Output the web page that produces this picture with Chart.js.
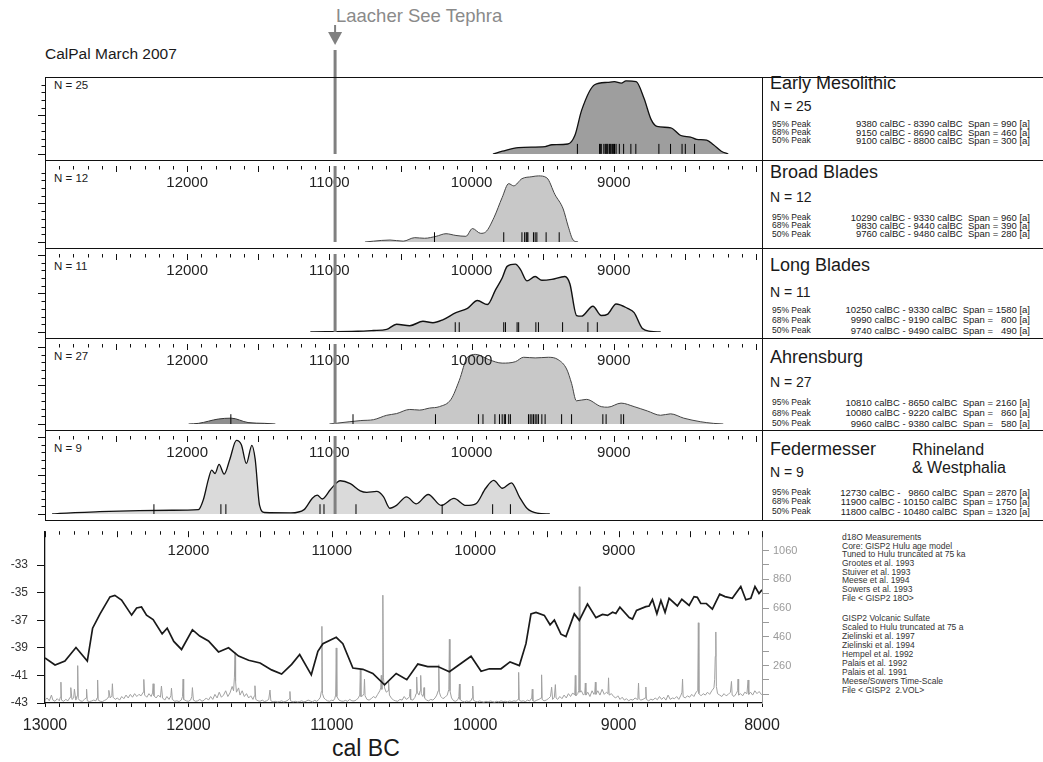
<!DOCTYPE html>
<html lang="de">
<head>
<meta charset="UTF-8" />
<title>CalPal March 2007</title>
<script src="https://cdn.jsdelivr.net/npm/chart.js@4.4.1/dist/chart.umd.min.js"></script>
<style>
  body { margin: 0; background: #fff; font-family: "Liberation Sans", Arial, sans-serif; color: #1a1a1a; }
  #page { position: relative; width: 1043px; height: 762px; overflow: hidden; }
  canvas { position: absolute; }
  .txt { position: absolute; white-space: pre; line-height: 1; }
  .hline { position: absolute; left: 45px; width: 998px; height: 1px; background: #111; z-index: 5; }
  .vline { position: absolute; width: 1px; background: #111; z-index: 5; }
  .row { position: absolute; left: 772px; width: 258px; height: 10px; display: flex;
         justify-content: space-between; align-items: center; }
  .row .lab { font-size: 8.5px; }
  .row .val { font-size: 9.5px; white-space: pre; }
  .notes { position: absolute; left: 842px; font-size: 8.5px; white-space: pre; color: #333; }
</style>
</head>
<body>
<div id="page">
  <div class="txt" style="left:336px; top:7px; font-size:18.5px; color:#8a8a8a;">Laacher See Tephra</div>
  <div class="txt" style="left:45px; top:46px; font-size:15.5px;">CalPal March 2007</div>
  <div class="txt" style="left:332px; top:737px; font-size:23px;">cal BC</div>
  <div class="notes" style="top:533px; line-height:8.65px;">d18O Measurements
Core: GISP2 Hulu age model
Tuned to Hulu truncated at 75 ka
Grootes et al. 1993
Stuiver et al. 1993
Meese et al. 1994
Sowers et al. 1993
File &lt; GISP2 18O&gt;</div>
  <div class="notes" style="top:614px; line-height:9.05px;">GISP2 Volcanic Sulfate
Scaled to Hulu truncated at 75 a
Zielinski et al. 1997
Zielinski et al. 1994
Hempel et al. 1992
Palais et al. 1992
Palais et al. 1991
Meese/Sowers Time-Scale
File &lt; GISP2  2.VOL&gt;</div>
</div>

<script>
// ---- data (years cal BC, relative probability 0..100) ----
const earlyMesolithic = [[9850,0],[9783,3.6],[9671,8.4],[9483,9.6],[9435,12],[9323,13],[9274,24],[9226,57],
  [9135,90],[9045,93],[8996,94],[8947,92],[8914,95],[8843,94],[8787,72],[8738,45],[8697,36],[8599,34],
  [8529,24],[8460,22],[8417,19],[8347,18],[8299,12],[8244,3.6],[8195,0]];
const broadBlades = [[10750,0],[10690,1.1],[10574,2.6],[10481,1.1],[10400,5.7],[10331,4.9],[10249,7.5],
  [10180,10.9],[10110,8.6],[10040,7.5],[9994,17.7],[9936,11.4],[9901,13.2],[9843,32],[9785,58.6],[9739,76.8],
  [9704,73.9],[9646,83.3],[9576,85.9],[9530,87],[9471,84.4],[9414,62.5],[9356,43.5],[9321,20.8],[9286,2.6],[9251,0]];
const longBlades = [[11134,0],[10800,1],[10690,1.9],[10597,3.3],[10528,10],[10435,8.1],[10342,13.7],[10272,11.9],
  [10203,15.6],[10110,24.8],[10029,30.3],[9959,40.3],[9889,35.2],[9831,54.4],[9785,69.2],[9750,84.1],[9692,87],
  [9657,80.3],[9611,65.6],[9553,71.1],[9506,66.3],[9437,67.4],[9344,71.1],[9309,61.9],[9262,21.1],[9228,20.3],
  [9147,33],[9088,21.1],[9042,23],[8984,35.9],[8903,30.3],[8857,24.8],[8799,4.4],[8740,0.8],[8670,0]];
const ahrensburgEarly = [[11990,0],[11921,0.8],[11781,6.2],[11691,7.3],[11572,1.8],[11454,0.8],[11380,0]];
const ahrensburg = [[11000,0],[10944,1.1],[10779,4.3],[10690,5.4],[10597,10.9],[10528,13],[10435,18.2],
  [10366,17.4],[10296,19.9],[10226,21.7],[10145,30.8],[10087,54.3],[10029,83.4],[9971,87],[9878,80.4],
  [9785,76.1],[9692,77.9],[9634,83.4],[9553,82.6],[9460,83.4],[9391,80.4],[9332,68.8],[9297,50.8],[9263,29],
  [9193,30.8],[9088,21.7],[9042,21],[8949,26.1],[8857,21.7],[8764,16.3],[8671,10.9],[8601,12.7],[8508,7.3],
  [8392,2.9],[8300,0.8],[8230,0]];
const federmesser = [[12950,0],[12896,0.8],[12617,3],[12338,4.4],[12107,4.8],[11921,5.6],[11886,18.6],
  [11851,44.4],[11828,56.3],[11804,51.9],[11776,63.7],[11740,51.1],[11700,70.3],[11654,94.4],[11619,88.9],
  [11584,64.8],[11545,88.1],[11522,70.3],[11491,11.1],[11456,1.9],[11271,1.4],[11178,5.6],[11120,20.3],
  [11085,24.1],[11050,19.2],[10992,31.4],[10923,42.6],[10853,38.9],[10783,29.7],[10737,27.8],[10667,28.9],
  [10620,22.2],[10575,7.4],[10528,11.1],[10458,22],[10389,13],[10305,25],[10214,11],[10124,20],[10040,11],
  [9971,13],[9901,33],[9845,43],[9783,33],[9720,40],[9664,22],[9609,7],[9539,1],[9450,0]];

// single 14C dates (rug marks)
const earlyMesolithicDates = [9256,9100,9095,9088,9070,9060,9054,9048,9042,9031,9025,9019,9010,9001,8995,
  8984,8961,8931,8880,8845,8683,8601,8520,8497,8432];
const broadBladesDates = [10261,9774,9646,9627,9616,9610,9604,9565,9553,9541,9476,9384];
const longBladesDates = [10115,10087,9774,9762,9680,9669,9548,9530,9360,9182,9116];
const ahrensburgDates = [11693,10834,10254,9952,9920,9836,9804,9785,9770,9762,9739,9727,9600,9588,9576,
  9565,9553,9541,9530,9506,9483,9367,9297,9077,9054,8949,8931];
const federmesserDates = [12234,11763,11728,11066,11038,10813,10207,9852,9727];

// GISP2 d18O (permil)
const d18O = [[13000,-39.73],[12930,-40.25],[12861,-39.96],[12784,-38.98],[12705,-39.96],[12668,-37.58],
  [12617,-36.56],[12547,-35.31],[12513,-35.2],[12466,-35.54],[12396,-36.63],[12361,-36.11],[12327,-36.04],
  [12292,-36.63],[12246,-36.95],[12183,-37.99],[12148,-37.58],[12102,-38.54],[12048,-39.12],[11972,-37.69],
  [11921,-38.15],[11860,-38.5],[11790,-39.3],[11720,-39.0],[11650,-39.6],[11580,-39.9],[11500,-40.1],
  [11420,-40.6],[11350,-40.9],[11280,-40.2],[11224,-39.49],[11143,-40.96],[11097,-39.26],[11062,-38.7],
  [10969,-38.24],[10923,-38.7],[10853,-40.47],[10783,-40.56],[10714,-40.86],[10632,-41.69],[10551,-40.86],
  [10477,-41.31],[10400,-40.18],[10331,-40.36],[10261,-40.36],[10180,-40.74],[10029,-39.61],[9959,-40.7],
  [9901,-40.52],[9820,-40.52],[9757,-40.02],[9692,-40.29],[9646,-38.7],[9611,-36.54],[9576,-36.43],
  [9518,-36.65],[9478,-37.33],[9448,-36.99],[9402,-38.01],[9367,-38.19],[9309,-36.54],[9274,-37.01],
  [9217,-35.83],[9158,-36.81],[9112,-36.58],[9077,-36.65],[9042,-36.42],[9019,-36.51],[8991,-36.06],
  [8926,-36.81],[8903,-36.92],[8875,-36.29],[8810,-36.02],[8787,-35.97],[8764,-35.5],[8733,-36.54],
  [8705,-35.57],[8676,-36.43],[8648,-35.41],[8590,-35.97],[8559,-35.48],[8508,-35.93],[8474,-35.29],
  [8451,-35.34],[8427,-35.79],[8388,-35.79],[8346,-36.2],[8295,-35.11],[8258,-35.29],[8207,-35.41],
  [8148,-34.56],[8113,-35.52],[8078,-35.41],[8049,-34.56],[8021,-35.06],[8000,-34.8]];

// GISP2 volcanic sulfate (ppb)
const sulfate = [[13000,20],[12985,35],[12970,15],[12955,55],[12945,20],[12930,12],[12915,30],[12900,15],
  [12893,40],[12889,145],[12885,20],[12870,12],[12855,25],[12840,15],[12825,40],[12820,107],[12812,25],
  [12800,35],[12795,96],[12785,20],[12776,50],[12772,260],[12768,30],[12755,15],[12740,12],[12725,25],
  [12714,35],[12710,96],[12705,15],[12690,10],[12675,14],[12660,20],[12645,15],[12637,35],[12633,160],
  [12629,20],[12615,12],[12600,10],[12585,18],[12570,25],[12560,40],[12555,88],[12545,35],[12534,50],
  [12530,134],[12525,40],[12510,25],[12495,35],[12480,20],[12465,45],[12450,30],[12435,55],[12420,35],
  [12405,60],[12390,40],[12375,65],[12360,45],[12345,60],[12330,50],[12315,75],[12311,164],[12305,55],
  [12290,40],[12275,65],[12260,45],[12250,70],[12246,134],[12240,50],[12225,35],[12210,55],[12195,40],
  [12188,118],[12180,35],[12165,20],[12150,45],[12135,25],[12122,50],[12118,103],[12112,25],[12095,12],
  [12080,15],[12065,10],[12050,20],[12041,45],[12037,166],[12033,25],[12015,15],[12000,12],[11985,20],
  [11976,45],[11972,107],[11965,20],[11950,12],[11935,15],[11920,25],[11905,12],[11890,20],[11875,35],
  [11860,20],[11845,45],[11830,25],[11815,60],[11800,35],[11785,75],[11770,40],[11755,55],[11740,85],
  [11725,45],[11710,70],[11695,115],[11685,85],[11679,180],[11675,350],[11671,150],[11665,75],
  [11650,105],[11640,55],[11625,85],[11610,45],[11595,65],[11580,35],[11565,50],[11550,25],[11540,50],
  [11536,120],[11530,25],[11515,15],[11500,12],[11485,20],[11470,10],[11455,15],[11440,25],[11431,90],
  [11425,15],[11410,8],[11395,12],[11380,8],[11365,10],[11350,15],[11335,8],[11320,12],[11305,20],
  [11296,30],[11292,80],[11288,15],[11270,8],[11255,12],[11240,8],[11225,10],[11210,15],[11195,8],
  [11180,12],[11165,20],[11150,14],[11135,8],[11120,18],[11105,12],[11090,25],[11080,40],[11073,80],
  [11069,533],[11065,65],[11055,35],[11045,25],[11030,15],[11015,12],[11000,20],[10990,15],[10980,30],
  [10973,55],[10969,383],[10965,45],[10950,20],[10935,14],[10920,12],[10905,18],[10890,12],[10875,25],
  [10860,15],[10845,14],[10830,20],[10815,35],[10805,55],[10801,234],[10797,45],[10785,50],[10776,65],
  [10772,166],[10768,50],[10755,25],[10740,20],[10725,30],[10710,45],[10695,35],[10680,60],[10665,85],
  [10659,105],[10655,192],[10651,95],[10648,165],[10644,750],[10640,175],[10632,105],[10620,75],
  [10608,85],[10604,150],[10598,55],[10585,35],[10570,20],[10555,15],[10540,12],[10525,25],[10510,20],
  [10495,45],[10480,25],[10465,35],[10458,45],[10454,96],[10450,25],[10435,20],[10420,40],[10412,65],
  [10408,181],[10404,75],[10392,55],[10384,85],[10380,192],[10376,65],[10365,45],[10361,55],[10357,107],
  [10353,35],[10340,20],[10325,15],[10310,25],[10295,20],[10280,35],[10268,55],[10258,85],[10254,266],
  [10250,75],[10240,45],[10225,30],[10210,40],[10195,55],[10184,95],[10180,443],[10176,85],[10165,35],
  [10150,15],[10135,12],[10120,25],[10114,45],[10110,132],[10106,25],[10090,12],[10075,8],[10060,14],
  [10045,10],[10030,15],[10021,35],[10017,118],[10013,20],[10000,12],[9985,8],[9970,14],[9955,10],
  [9940,6],[9925,12],[9910,8],[9895,14],[9880,10],[9865,6],[9850,12],[9835,8],[9820,15],[9805,10],
  [9790,12],[9775,8],[9760,14],[9745,10],[9730,15],[9715,12],[9701,25],[9697,213],[9693,20],[9680,12],
  [9665,15],[9650,10],[9635,20],[9620,14],[9606,35],[9602,96],[9598,15],[9585,12],[9570,20],[9555,25],
  [9541,35],[9537,196],[9533,25],[9520,15],[9505,20],[9490,30],[9475,45],[9467,110],[9460,25],[9448,40],
  [9441,128],[9436,35],[9425,25],[9410,45],[9395,30],[9380,55],[9365,35],[9350,65],[9335,45],[9320,70],
  [9306,55],[9302,192],[9298,50],[9285,65],[9278,85],[9274,809],[9270,75],[9260,85],[9245,55],
  [9236,65],[9232,139],[9228,55],[9215,75],[9200,45],[9185,85],[9172,60],[9166,75],[9162,145],
  [9158,60],[9145,85],[9130,55],[9115,95],[9100,60],[9085,75],[9074,65],[9070,175],[9066,55],
  [9050,65],[9035,45],[9020,35],[9005,50],[8990,25],[8975,40],[8960,20],[8945,30],[8930,15],[8915,25],
  [8900,20],[8885,35],[8870,25],[8865,55],[8861,139],[8857,30],[8845,20],[8830,25],[8815,35],[8810,111],
  [8806,25],[8790,15],[8775,27],[8760,20],[8745,35],[8730,23],[8715,45],[8700,25],[8685,40],[8670,20],
  [8655,55],[8640,25],[8625,35],[8610,30],[8595,45],[8580,25],[8565,55],[8558,75],[8554,166],[8550,45],
  [8535,35],[8520,50],[8505,40],[8490,60],[8475,45],[8460,75],[8448,85],[8444,558],[8440,65],[8425,50],
  [8410,65],[8395,55],[8380,75],[8365,60],[8350,85],[8335,105],[8330,165],[8326,324],[8322,494],
  [8318,115],[8310,65],[8295,55],[8280,45],[8265,65],[8250,50],[8235,60],[8220,75],[8213,150],
  [8208,55],[8195,45],[8180,65],[8170,85],[8167,166],[8163,55],[8150,65],[8135,50],[8120,75],
  [8105,65],[8097,160],[8092,60],[8080,75],[8065,55],[8050,85],[8035,65],[8020,80],[8005,60],[8000,55]];

// labels
const panelNames = ['Early Mesolithic', 'Broad Blades', 'Long Blades', 'Ahrensburg', 'Federmesser'];
const panelN = [25, 12, 11, 27, 9];
const peakLevels = ['95% Peak', '68% Peak', '50% Peak'];
const peakRanges = [
  ['9380 calBC - 8390 calBC  Span = 990 [a]', '9150 calBC - 8690 calBC  Span = 460 [a]', '9100 calBC - 8800 calBC  Span = 300 [a]'],
  ['10290 calBC - 9330 calBC  Span = 960 [a]', '9830 calBC - 9440 calBC  Span = 390 [a]', '9760 calBC - 9480 calBC  Span = 280 [a]'],
  ['10250 calBC - 9330 calBC  Span = 1580 [a]', '9990 calBC - 9190 calBC  Span =   800 [a]', '9740 calBC - 9490 calBC  Span =   490 [a]'],
  ['10810 calBC - 8650 calBC  Span = 2160 [a]', '10080 calBC - 9220 calBC  Span =   860 [a]', '9960 calBC - 9380 calBC  Span =   580 [a]'],
  ['12730 calBC -   9860 calBC  Span = 2870 [a]', '11900 calBC - 10150 calBC  Span = 1750 [a]', '11800 calBC - 10480 calBC  Span = 1320 [a]']
];
const regionLabel = ['Rhineland', '& Westphalia'];
const yearLabels = [12000, 11000, 10000, 9000];
const d18OTicks = [-43, -41, -39, -37, -35, -33];
const sulfateTicks = [60, 160, 260, 360, 460, 560, 660, 760, 860, 960, 1060];
const sulfateLabels = [260, 460, 660, 860, 1060];
const tephraYear = 10960;

// ---- layout ----
const panelTops = [77, 160, 248, 338, 430];
const panelBottoms = [160, 248, 338, 430, 520];
const textTops = [
  { title: 73.7, n: 98.8, rows: [118.5, 127, 135.3] },
  { title: 163, n: 189.8, rows: [212, 220.3, 228.6] },
  { title: 256.4, n: 284.8, rows: [304.6, 314.6, 325.3] },
  { title: 348, n: 374.8, rows: [397, 407.6, 418] },
  { title: 439.7, n: 464.8, rows: [487, 496, 506] }
];
const page = document.getElementById('page');

function addDiv(cls, css, text) {
  const d = document.createElement('div');
  d.className = cls;
  d.style.cssText = css;
  d.textContent = text;
  page.appendChild(d);
  return d;
}

// frame lines
[77, 160, 248, 338, 430, 520].forEach(y => addDiv('hline', `top:${y}px`, ''));
addDiv('vline', 'left:45px; top:77px; height:443px', '');
addDiv('vline', 'left:762px; top:77px; height:443px', '');

// right-hand text boxes
panelNames.forEach((name, i) => {
  const t = textTops[i];
  addDiv('txt', `left:770px; top:${t.title}px; font-size:18px;`, name);
  addDiv('txt', `left:770px; top:${t.n}px; font-size:14px;`, 'N = ' + panelN[i]);
  addDiv('txt', `left:54px; top:${panelTops[i] + (i === 0 ? 3 : 12.5)}px; font-size:11.5px;`, 'N = ' + panelN[i]);
  t.rows.forEach((top, r) => {
    const row = addDiv('row', `top:${top}px;`, '');
    const a = document.createElement('span'); a.className = 'lab'; a.textContent = peakLevels[r];
    const b = document.createElement('span'); b.className = 'val'; b.textContent = peakRanges[i][r];
    row.appendChild(a); row.appendChild(b);
  });
});
addDiv('txt', 'left:912px; top:441.5px; font-size:16px;', regionLabel[0]);
addDiv('txt', 'left:912px; top:459.8px; font-size:16px;', regionLabel[1]);

// ---- drawing helpers ----
const panelDecor = {
  id: 'panelDecor',
  afterDatasetsDraw(chart, args, o) {
    const { ctx, chartArea: a } = chart;
    const x = chart.scales.x;
    ctx.save();
    ctx.strokeStyle = '#111';
    ctx.lineWidth = 1;
    if (o.topTicks) {
      for (let yr = 8000; yr <= 13000; yr += 100) {
        const px = Math.round(x.getPixelForValue(yr)) + 0.5;
        ctx.beginPath();
        ctx.moveTo(px, a.top);
        ctx.lineTo(px, a.top + (yr % 500 === 0 ? 6 : 3.5));
        ctx.stroke();
      }
    }
    if (o.leftTicks) {
      let k = 0;
      for (let py = a.bottom; py > a.top; py -= 7.7, k++) {
        const y = Math.round(py) + 0.5;
        ctx.beginPath();
        ctx.moveTo(a.left, y);
        ctx.lineTo(a.left - (k % 5 === 0 ? 7 : 3.5), y);
        ctx.stroke();
      }
    }
    if (o.labels) {
      ctx.fillStyle = '#222';
      ctx.font = '15px "Liberation Sans", Arial, sans-serif';
      ctx.textAlign = 'center';
      ctx.textBaseline = 'middle';
      yearLabels.forEach(v => ctx.fillText(String(v), x.getPixelForValue(v), a.top + o.labelOffset));
    }
    if (o.tephra) {
      const px = x.getPixelForValue(tephraYear);
      ctx.strokeStyle = '#808080';
      ctx.fillStyle = '#808080';
      ctx.lineWidth = 3;
      ctx.beginPath();
      ctx.moveTo(px, o.arrow ? a.top - 27 : a.top);
      ctx.lineTo(px, a.bottom);
      ctx.stroke();
      if (o.arrow) {
        ctx.lineWidth = 2;
        ctx.beginPath(); ctx.moveTo(px, a.top - 52); ctx.lineTo(px, a.top - 44); ctx.stroke();
        ctx.beginPath();
        ctx.moveTo(px - 7, a.top - 45);
        ctx.lineTo(px + 7, a.top - 45);
        ctx.lineTo(px, a.top - 32);
        ctx.closePath();
        ctx.fill();
      }
    }
    ctx.restore();
  }
};

const xScale = { type: 'linear', min: 8000, max: 13000, reverse: true, display: false };

function makePanel(i, curves, dates) {
  const top = panelTops[i], h = panelBottoms[i] - top;
  const extra = i === 0 ? 57 : 0;
  const c = document.createElement('canvas');
  c.width = 732; c.height = h + extra;
  c.style.left = '30px'; c.style.top = (top - extra) + 'px';
  page.appendChild(c);
  const rugY = 100 * 5.5 / h;
  const datasets = curves.map(cv => ({
    data: cv.data.map(p => ({ x: p[0], y: p[1] })),
    fill: 'origin',
    backgroundColor: cv.fill,
    borderColor: cv.line,
    borderWidth: cv.width,
    pointRadius: 0,
    cubicInterpolationMode: 'monotone',
    order: 1
  }));
  // rug of single dates, drawn on top of the fills
  datasets.push({
    data: dates.map(d => ({ x: d, y: rugY })),
    showLine: false,
    pointStyle: 'line',
    pointRotation: 90,
    pointRadius: 5,
    pointBorderColor: '#000',
    pointBorderWidth: 1,
    order: -1
  });
  new Chart(c, {
    type: 'line',
    data: { datasets },
    options: {
      responsive: false, animation: false, events: [],
      layout: { padding: { left: 15, top: extra, right: 0, bottom: 0 } },
      scales: { x: xScale, y: { min: 0, max: 100, display: false } },
      plugins: {
        legend: { display: false }, tooltip: { enabled: false },
        panelDecor: { topTicks: i > 0, leftTicks: true, labels: i > 0, labelOffset: 17, tephra: true, arrow: i === 0 }
      }
    },
    plugins: [panelDecor]
  });
}

makePanel(0, [{ data: earlyMesolithic, fill: '#9e9e9e', line: '#111', width: 1.3 }], earlyMesolithicDates);
makePanel(1, [{ data: broadBlades, fill: '#c8c8c8', line: '#444', width: 1 }], broadBladesDates);
makePanel(2, [{ data: longBlades, fill: '#c8c8c8', line: '#111', width: 1.4 }], longBladesDates);
makePanel(3, [{ data: ahrensburg, fill: '#c8c8c8', line: '#444', width: 1 },
              { data: ahrensburgEarly, fill: '#8e8e8e', line: '#333', width: 1 }], ahrensburgDates);
makePanel(4, [{ data: federmesser, fill: '#dadada', line: '#111', width: 1.3 }], federmesserDates);

// ---- bottom panel: d18O and volcanic sulfate ----
const bc = document.createElement('canvas');
bc.width = 845; bc.height = 247;
bc.style.left = '0px'; bc.style.top = '515px';
page.appendChild(bc);

const fontStr = (s) => ({ family: '"Liberation Sans", Arial, sans-serif', size: s });

new Chart(bc, {
  type: 'line',
  data: {
    datasets: [
      { data: d18O.map(p => ({ x: p[0], y: p[1] })), yAxisID: 'y', borderColor: '#1a1a1a',
        borderWidth: 1.7, pointRadius: 0, tension: 0 },
      { data: sulfate.map(p => ({ x: p[0], y: p[1] })), yAxisID: 'y2', borderColor: '#a0a0a0',
        borderWidth: 1, pointRadius: 0, tension: 0 }
    ]
  },
  options: {
    responsive: false, animation: false, events: [],
    layout: { padding: { top: 5, left: 0, right: 0, bottom: 0 } },
    scales: {
      x: {
        type: 'linear', min: 8000, max: 13000, reverse: true, position: 'bottom',
        afterBuildTicks: s => { const t = []; for (let v = 13000; v >= 8000; v -= 100) t.push({ value: v }); s.ticks = t; },
        afterFit: s => { s.height = 59; },
        ticks: { autoSkip: false, maxRotation: 0, padding: 9, color: '#222', font: fontStr(16),
                 callback: v => (v % 1000 === 0 ? String(v) : '') },
        grid: { drawOnChartArea: false, tickLength: 4, color: '#111' },
        border: { color: '#111', width: 1.3 }
      },
      y: {
        position: 'left', min: -43, max: -30.55,
        afterBuildTicks: s => { s.ticks = d18OTicks.map(v => ({ value: v })); },
        afterFit: s => { s.width = 45; },
        ticks: { padding: 9, color: '#333', font: fontStr(12), callback: v => String(v) },
        grid: { drawOnChartArea: false, tickLength: 8, color: '#111' },
        border: { color: '#111', width: 1.3 }
      },
      y2: {
        position: 'right', min: 0, max: 1195,
        afterBuildTicks: s => { s.ticks = sulfateTicks.map(v => ({ value: v })); },
        afterFit: s => { s.width = 83; },
        ticks: { padding: 4, color: '#9a9a9a', font: fontStr(11),
                 callback: v => (sulfateLabels.includes(v) ? String(v) : '') },
        grid: { drawOnChartArea: false, tickLength: 7, color: '#9a9a9a' },
        border: { color: '#9a9a9a', width: 1 }
      }
    },
    plugins: {
      legend: { display: false }, tooltip: { enabled: false },
      panelDecor: { topTicks: true, leftTicks: false, labels: true, labelOffset: 20, tephra: false }
    }
  },
  plugins: [panelDecor]
});
</script>
</body>
</html>
